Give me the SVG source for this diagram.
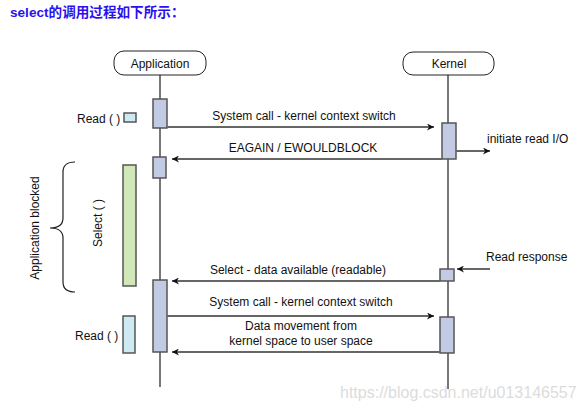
<svg xmlns="http://www.w3.org/2000/svg" width="584" height="411" viewBox="0 0 584 411">
<defs>
<marker id="ah" viewBox="0 0 10 10" refX="10" refY="5" markerWidth="9" markerHeight="7" markerUnits="userSpaceOnUse" orient="auto">
<path d="M0,0 L10,5 L0,10 L3,5 z" fill="#111"/>
</marker>
</defs>
<style>
text{font-family:"Liberation Sans",Arial,sans-serif;font-size:12px;fill:#111}
.t{font-family:"Liberation Sans","Noto Sans CJK SC",sans-serif;font-size:13.6px;font-weight:bold;fill:#2a10f0}
.head{fill:#fff;stroke:#222;stroke-width:1}
.life{stroke:#777;stroke-width:2;fill:none}
.act{fill:#c3cbe4;stroke:#555;stroke-width:1.5}
.msg{stroke:#666;stroke-width:2;fill:none;marker-end:url(#ah)}
.c{text-anchor:middle}
.wm{fill:#dcdcdc;font-size:16px}
</style>
<rect width="584" height="411" fill="#fff"/>
<text class="t" x="10" y="17">select的调用过程如下所示：</text>

<g id="application">
<line class="life" x1="160" y1="75" x2="160" y2="387"/>
<rect class="head" x="114" y="51" width="92" height="24" rx="10"/>
<text class="c" x="160" y="67.5">Application</text>
<rect class="act" x="153" y="99" width="14" height="29"/>
<rect class="act" x="153" y="157" width="13" height="21"/>
<rect class="act" x="153" y="280" width="14" height="72"/>
</g>

<g id="kernel">
<line class="life" x1="448" y1="75" x2="448" y2="389"/>
<rect class="head" x="403" y="52" width="91" height="23" rx="10"/>
<text class="c" x="449" y="68">Kernel</text>
<rect class="act" x="442" y="123" width="14" height="36"/>
<rect class="act" x="440" y="269" width="14" height="12"/>
<rect class="act" x="440" y="317" width="14" height="36"/>
</g>

<g id="read1">
<rect x="124" y="113" width="12" height="9" fill="#cde9f1" stroke="#555" stroke-width="1.5"/>
<text x="77" y="123">Read ( )</text>
</g>

<g id="select">
<rect x="123" y="165" width="13" height="121" fill="#d0e8b8" stroke="#555" stroke-width="1.5"/>
<text class="c" transform="translate(102,223) rotate(-90)">Select ( )</text>
</g>

<g id="blocked">
<path d="M75,162 Q63,162 63,172 L63,218 Q63,228 50,228 Q63,228 63,238 L63,282 Q63,292 75,292" fill="none" stroke="#222" stroke-width="1.2"/>
<text class="c" transform="translate(39,228) rotate(-90)">Application blocked</text>
</g>

<g id="read2">
<rect x="123" y="316" width="12" height="37" fill="#cde9f1" stroke="#555" stroke-width="1.5"/>
<text x="75" y="340">Read ( )</text>
</g>

<g id="connectors">
<line class="msg" x1="167" y1="127" x2="434" y2="127"/>
<line class="msg" x1="456" y1="151" x2="490" y2="151"/>
<line class="msg" x1="442" y1="159" x2="172" y2="159"/>
<line class="msg" x1="490" y1="269" x2="457" y2="269"/>
<line class="msg" x1="440" y1="281" x2="172" y2="281"/>
<line class="msg" x1="167" y1="316" x2="434" y2="316"/>
<line class="msg" x1="440" y1="352" x2="172" y2="352"/>
</g>

<g id="labels">
<text class="c" x="304" y="120">System call - kernel context switch</text>
<text x="487" y="143">initiate read I/O</text>
<text class="c" x="303" y="152">EAGAIN / EWOULDBLOCK</text>
<text x="486" y="261">Read response</text>
<text class="c" x="298" y="274">Select - data available (readable)</text>
<text class="c" x="301" y="306">System call - kernel context switch</text>
<text class="c" x="301" y="330">Data movement from</text>
<text class="c" x="301" y="345">kernel space to user space</text>
</g>

<text class="wm" x="340" y="398">https://blog.csdn.net/u013146557</text>
</svg>
